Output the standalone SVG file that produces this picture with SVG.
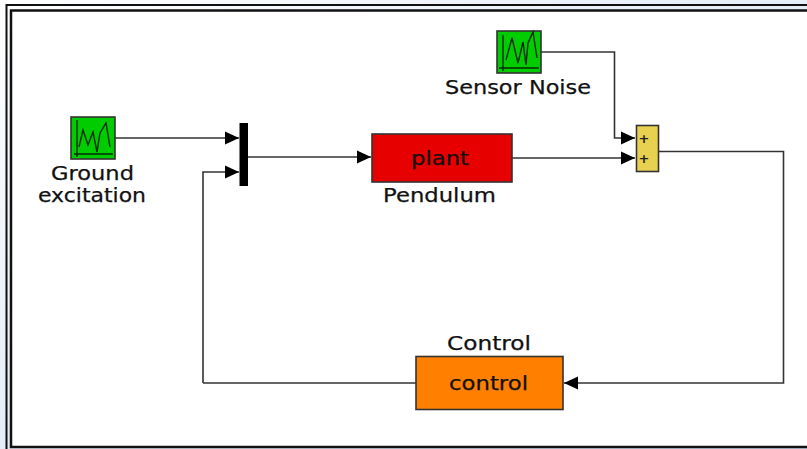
<svg xmlns="http://www.w3.org/2000/svg" width="807" height="449" viewBox="0 0 807 449">
<defs>
<linearGradient id="bg" x1="0" y1="0" x2="1" y2="1"><stop offset="0" stop-color="#ffffff"/><stop offset="0.5" stop-color="#e4edf8"/><stop offset="1" stop-color="#c8d8ee"/></linearGradient>
<marker id="arrow" markerUnits="userSpaceOnUse" markerWidth="15" markerHeight="14" refX="14" refY="7" orient="auto"><path d="M0 0.500L14 7L0 13.500Z" fill="#000"/></marker>
</defs>
<style>
.wire{fill:none;stroke:#333;stroke-width:1.6}
.box{stroke:#333;stroke-width:1.6}
.lbl{font-family:"DejaVu Sans",Verdana,sans-serif;font-size:19px;fill:#111;stroke:#111;stroke-width:0.25;text-anchor:middle}
.trace{fill:none;stroke:#062a06;stroke-width:1.4}
.sum{font-family:"DejaVu Sans",sans-serif;font-size:13px;font-weight:bold;fill:#222;text-anchor:middle}
</style>
<rect width="807" height="449" fill="url(#bg)"/>
<path d="M6.500 449V5H807" fill="none" stroke="#111" stroke-width="2"/>
<rect x="11" y="10.500" width="800" height="436.500" fill="#fff" stroke="#111" stroke-width="2.500"/>
<g id="connectors">
<path class="wire" marker-end="url(#arrow)" d="M115 138H239"/>
<path class="wire" marker-end="url(#arrow)" d="M203 383V172H239"/>
<path class="wire" marker-end="url(#arrow)" d="M248 157H371"/>
<path class="wire" marker-end="url(#arrow)" d="M512 158H635"/>
<path class="wire" marker-end="url(#arrow)" d="M541 52H614.500V138H635"/>
<path class="wire" marker-end="url(#arrow)" d="M659 151.500H783.500V383H564"/>
<path class="wire" d="M416 383H203"/>
</g>
<g id="ground-excitation">
<rect class="box" x="71" y="117" width="44" height="42" fill="#00cc00"/>
<path class="trace" d="M77 120V157M74 154H113M79 147L83 130L88 145L93 132L97 152L100 133L106 123L110 147"/>
<text class="lbl" x="92.500" y="180" textLength="83" lengthAdjust="spacingAndGlyphs">Ground</text>
<text class="lbl" x="92" y="202" textLength="108" lengthAdjust="spacingAndGlyphs">excitation</text>
</g>
<g id="mux"><rect x="239.500" y="123" width="8.500" height="63" fill="#000"/></g>
<g id="plant">
<rect class="box" x="372" y="134" width="140" height="48" fill="#e60000"/>
<text class="lbl" x="440" y="165" textLength="58" lengthAdjust="spacingAndGlyphs">plant</text>
<text class="lbl" x="439.500" y="202" textLength="113" lengthAdjust="spacingAndGlyphs">Pendulum</text>
</g>
<g id="sensor-noise">
<rect class="box" x="497" y="31" width="44" height="42" fill="#00cc00"/>
<path class="trace" d="M503 35V71M499 68H539M506 60L512 38L518 63L523 42L526 65L528 43L533 32L537 58"/>
<text class="lbl" x="518" y="94" textLength="146" lengthAdjust="spacingAndGlyphs">Sensor Noise</text>
</g>
<g id="sum">
<rect class="box" x="636.500" y="125.500" width="22" height="46" fill="#e8d050"/>
<text class="sum" x="644" y="143">+</text>
<text class="sum" x="644" y="163">+</text>
</g>
<g id="control">
<rect class="box" x="416" y="356.500" width="147" height="53" fill="#ff8000"/>
<text class="lbl" x="488.500" y="390" textLength="79" lengthAdjust="spacingAndGlyphs">control</text>
<text class="lbl" x="489" y="350" textLength="84" lengthAdjust="spacingAndGlyphs">Control</text>
</g>
</svg>
